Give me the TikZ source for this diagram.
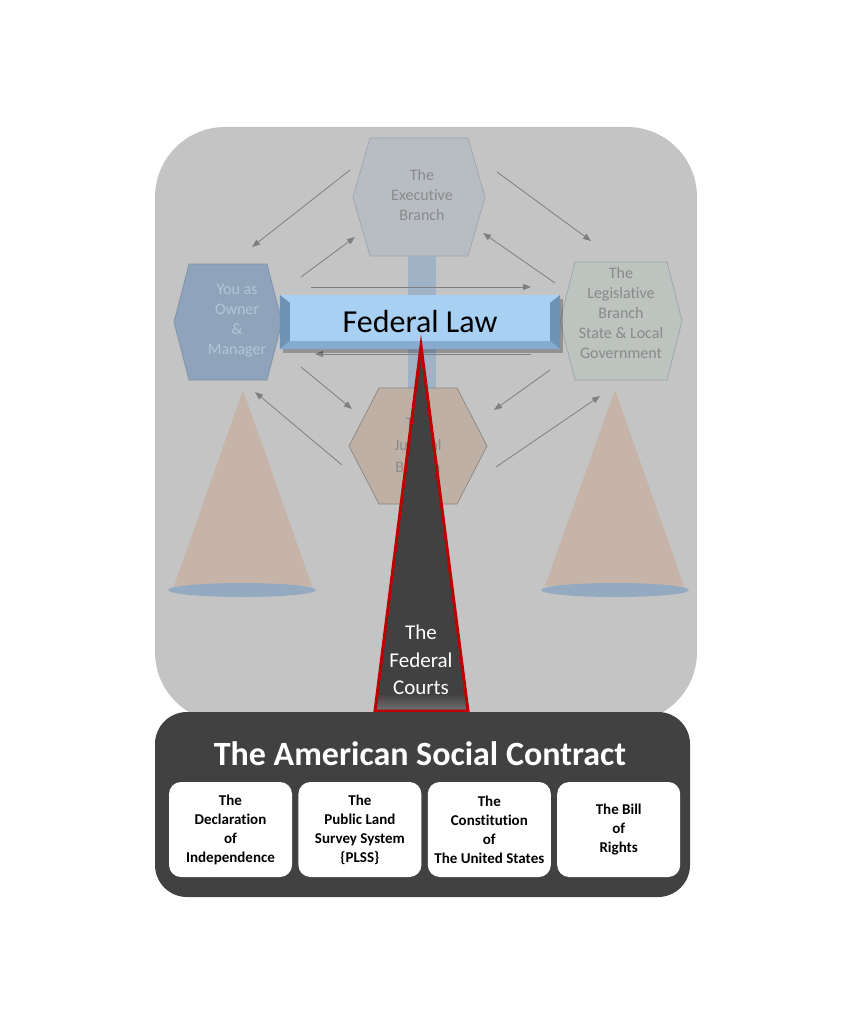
\documentclass[tikz,border=0pt]{standalone}
\usepackage{fontspec}
\setmainfont[Ligatures=NoCommon]{Carlito}
\usetikzlibrary{arrows.meta,
                positioning,
                shapes.geometric}
\definecolor{panelgray}{HTML}{C4C4C4}
\definecolor{execfill}{HTML}{B8BDC4}
\definecolor{execdraw}{HTML}{9DA5AF}
\definecolor{ownerfill}{HTML}{8FA4BA}
\definecolor{ownerdraw}{HTML}{7C92A9}
\definecolor{ownertext}{HTML}{B4C5D7}
\definecolor{legisfill}{HTML}{BDC3BE}
\definecolor{legisdraw}{HTML}{98A6AE}
\definecolor{judfill}{HTML}{BFB0A5}
\definecolor{juddraw}{HTML}{8C8680}
\definecolor{conefill}{HTML}{C6B4A9}
\definecolor{basefill}{HTML}{93AAC1}
\definecolor{barfill}{HTML}{9FB2C6}
\definecolor{fedblue}{HTML}{A8D0F3}
\definecolor{fedbevel}{HTML}{6F93B5}
\definecolor{arrowgray}{HTML}{7F7F7F}
\definecolor{hexgray}{HTML}{8A8A8A}
\definecolor{darkpanel}{HTML}{414141}
\definecolor{courtred}{HTML}{C00000}
\tikzset{
        hextext/.style={align=center, inner sep=0pt, font=\fontsize{16}{20}\selectfont},
        cone/.style={fill=conefill, draw=none},
        conebase/.style={fill=basefill, draw=none},
        myarrow/.style={-{Triangle[length=8pt, width=6pt]}, draw=arrowgray, line width=0.8pt},
        docbox/.style={fill=white, rounded corners=12pt, minimum width=123pt,
                       minimum height=95pt, align=center, inner sep=0pt,
                       font=\bfseries\fontsize{15}{19}\selectfont},
 }
% hexagon: centre x, centre y, half width, slant, half height
\newcommand{\hexpath}[5]{(#1-#3,#2) -- (#1-#3+#4,#2-#5) -- (#1+#3-#4,#2-#5)
  -- (#1+#3,#2) -- (#1+#3-#4,#2+#5) -- (#1-#3+#4,#2+#5) -- cycle}
\begin{document}
\begin{tikzpicture}[x=1pt, y=-1pt]
    \useasboundingbox[fill=white] (0,0) rectangle (853,1024);
    \fill[panelgray, rounded corners=70pt] (155,127) rectangle (697,722);

    % scales
    \fill[cone] (243,390) -- (312,586) -- (174,586) -- cycle;
    \fill[cone] (615,390) -- (684,586) -- (545,586) -- cycle;
    \fill[conebase] (242,590) ellipse [x radius=74, y radius=7];
    \fill[conebase] (615,590) ellipse [x radius=74, y radius=7];
    \fill[barfill] (408,250) rectangle (436,400);

    % branches
    \draw[fill=execfill, draw=execdraw, line width=0.7pt] \hexpath{419}{197}{66}{17}{59};
    \draw[fill=ownerfill, draw=ownerdraw, line width=0.7pt] \hexpath{228}{322}{54}{15}{58};
    \draw[fill=legisfill, draw=legisdraw, line width=0.7pt] \hexpath{621}{321}{61}{15}{59};
    \draw[fill=judfill, draw=juddraw, line width=0.7pt] \hexpath{418}{446}{69}{30}{58};
    \node[hextext, text=hexgray] (exec) at (422,195) {The\\Executive\\Branch};
    \node[hextext, text=ownertext] (owner) at (237,321) {You as\\Owner\\\&\\Manager};
    \node[hextext, text=hexgray] (legis) at (621,313) {The\\Legislative\\Branch\\State \& Local\\Government};
    \node[hextext, text=hexgray, font=\fontsize{16}{22}\selectfont] (judicial) at (418,445) {The\\Judicial\\Branch};

    \coordinate (a1s) at (350,170);  \coordinate (a1e) at (252,247);
    \coordinate (a2s) at (301,277);  \coordinate (a2e) at (355,237);
    \coordinate (a3s) at (497,172);  \coordinate (a3e) at (591,241);
    \coordinate (a4s) at (555,283);  \coordinate (a4e) at (483,233);
    \coordinate (a5s) at (311,287);  \coordinate (a5e) at (531,287);
    \coordinate (a6s) at (531,354);  \coordinate (a6e) at (315,354);
    \coordinate (a7s) at (301,367);  \coordinate (a7e) at (352,409);
    \coordinate (a8s) at (550,370);  \coordinate (a8e) at (494,410);
    \coordinate (a9s) at (342,465);  \coordinate (a9e) at (255,392);
    \coordinate (a10s) at (496,467); \coordinate (a10e) at (600,396);
    \foreach \i in {1,...,10}
        \draw[myarrow] (a\i s) -- (a\i e);

    % federal law beam
    \fill[black, opacity=0.25] (283,299) rectangle (563,353);
    \node[fill=fedblue, minimum width=280pt, minimum height=54pt, inner sep=0pt,
          font=\fontsize{32}{36}\selectfont] (fedlaw) at (420,322) {Federal Law};
    \fill[fedbevel] (fedlaw.north west) -- ++(10,8) -- ([shift={(10,-8)}]fedlaw.south west)
        -- (fedlaw.south west) -- cycle;
    \fill[fedbevel] (fedlaw.north east) -- ++(-10,8) -- ([shift={(-10,-8)}]fedlaw.south east)
        -- (fedlaw.south east) -- cycle;
    \fill[fedbevel!60!fedblue] (fedlaw.south west) -- ++(10,-8) -- ([shift={(-10,-8)}]fedlaw.south east)
        -- (fedlaw.south east) -- cycle;

    % the federal courts
    \coordinate (apex) at (421,346);
    \coordinate (baseL) at (375,711);
    \coordinate (baseR) at (468,711);
    \fill[darkpanel] (apex) -- (baseR) -- (baseL) -- cycle;
    \shade[top color=darkpanel, bottom color=gray!80!darkpanel] (377,694) -- (466,694) -- (baseR) -- (baseL) -- cycle;
    \draw[courtred, line width=3pt, line join=miter] (apex) -- (baseR) -- (baseL) -- cycle;
    \node[align=center, text=white, font=\fontsize{21}{27.5}\selectfont] (courts) at (421,660)
        {The\\Federal\\Courts};

    % social contract
    \node[fill=darkpanel, rounded corners=32pt, minimum width=535pt, minimum height=185pt]
        (contract) at (422.5,804.5) {};
    \node[text=white, font=\bfseries\fontsize{34}{36}\selectfont] (title) at (420,754)
        {The American Social Contract};
    \node[docbox] (decl) at (230.5,829.5) {The\\Declaration\\of\\Independence};
    \node[docbox, right=6pt of decl] (plss) {The\\Public Land\\Survey System\\\{PLSS\}};
    \node[docbox, right=6pt of plss] (const) {The\\Constitution\\of\\The United States};
    \node[docbox, right=6pt of const] (bill) {The Bill\\of\\Rights};
\end{tikzpicture}
\end{document}
